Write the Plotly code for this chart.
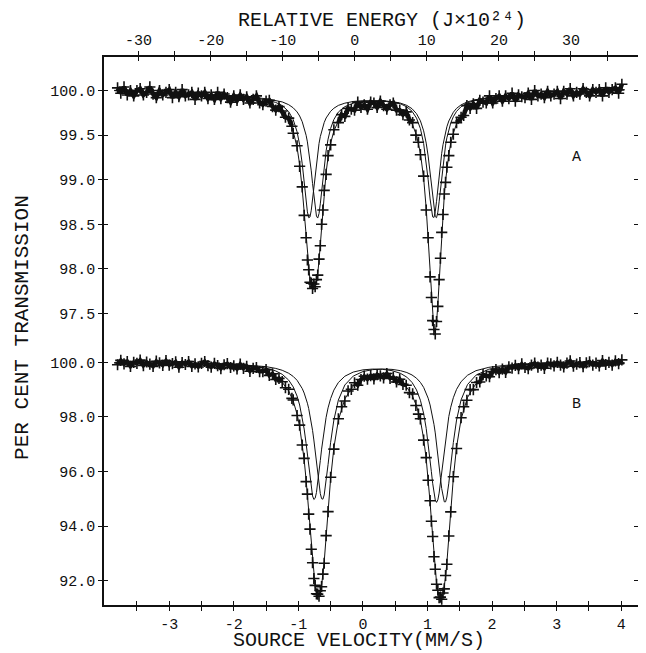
import plotly.graph_objects as go

# Mossbauer spectra, panels A and B
velocity = [
    -3.80, -3.75, -3.70, -3.65, -3.60, -3.55, -3.50, -3.45, -3.40, -3.35,
    -3.30, -3.25, -3.20, -3.15, -3.10, -3.05, -3.00, -2.95, -2.90, -2.85,
    -2.80, -2.75, -2.70, -2.65, -2.60, -2.55, -2.50, -2.45, -2.40, -2.35,
    -2.30, -2.25, -2.20, -2.15, -2.10, -2.05, -2.00, -1.95, -1.90, -1.85,
    -1.80, -1.75, -1.70, -1.65, -1.60, -1.55, -1.50, -1.45, -1.40, -1.35,
    -1.30, -1.25, -1.20, -1.15, -1.10,
    -1.08, -1.02, -0.98, -0.94, -0.91, -0.88, -0.86, -0.84, -0.82, -0.80,
    -0.78, -0.76, -0.74, -0.72, -0.70, -0.68, -0.66, -0.64, -0.62, -0.60,
    -0.57, -0.54, -0.50, -0.45, -0.38,
    -0.33, -0.28, -0.23, -0.18, -0.13, -0.08, -0.03, 0.02, 0.07, 0.12,
    0.17, 0.22, 0.27, 0.32, 0.37, 0.42, 0.47, 0.52, 0.57, 0.62,
    0.67, 0.72, 0.77, 0.82,
    0.86, 0.89, 0.94, 0.98, 1.01, 1.04, 1.06, 1.08, 1.10, 1.12,
    1.14, 1.16, 1.18, 1.20, 1.22, 1.24, 1.26, 1.28, 1.30, 1.33,
    1.36, 1.40, 1.45, 1.52,
    1.56, 1.61, 1.66, 1.71, 1.76, 1.81, 1.86, 1.91, 1.96, 2.01,
    2.06, 2.11, 2.16, 2.21, 2.26, 2.31, 2.36, 2.41, 2.46, 2.51,
    2.56, 2.61, 2.66, 2.71, 2.76, 2.81, 2.86, 2.91, 2.96, 3.01,
    3.06, 3.11, 3.16, 3.21, 3.26, 3.31, 3.36, 3.41, 3.46, 3.51,
    3.56, 3.61, 3.66, 3.71, 3.76, 3.81, 3.86, 3.91, 3.96, 4.01,
]

trans_a = [
    100.03, 99.97, 100.04, 99.95, 100.00, 99.94, 100.00, 100.02, 99.95, 99.98,
    100.04, 99.96, 99.92, 100.00, 99.95, 99.98, 100.01, 99.92, 99.98, 99.93,
    100.01, 99.94, 99.95, 99.98, 99.90, 99.97, 99.94, 99.98, 99.91, 99.95,
    99.90, 99.98, 99.91, 99.96, 99.92, 99.87, 99.94, 99.89, 99.95, 99.90,
    99.93, 99.86, 99.90, 99.94, 99.86, 99.84, 99.88, 99.89, 99.82, 99.78,
    99.82, 99.77, 99.70, 99.69, 99.60,
    99.52, 99.38, 99.15, 98.92, 98.60, 98.35, 98.10, 97.99, 97.85, 97.84,
    97.78, 97.83, 97.80, 97.88, 97.93, 98.11, 98.26, 98.50, 98.66, 98.88,
    99.06, 99.27, 99.39, 99.56, 99.64,
    99.73, 99.71, 99.80, 99.79, 99.78, 99.87, 99.81, 99.84, 99.79, 99.87,
    99.86, 99.81, 99.88, 99.83, 99.79, 99.84, 99.86, 99.78, 99.78, 99.73,
    99.76, 99.67, 99.64, 99.50,
    99.42, 99.28, 99.04, 98.66, 98.35, 97.91, 97.68, 97.42, 97.32, 97.27,
    97.41, 97.58, 97.88, 98.12, 98.41, 98.61, 98.84, 98.97, 99.14, 99.27,
    99.42, 99.51, 99.64, 99.70,
    99.72, 99.83, 99.80, 99.85, 99.80, 99.89, 99.87, 99.86, 99.94, 99.86,
    99.91, 99.94, 99.88, 99.94, 99.91, 99.97, 99.88, 99.95, 99.93, 99.92,
    99.97, 99.90, 100.00, 99.94, 99.96, 99.92, 99.99, 99.94, 99.96, 99.99,
    99.91, 99.99, 99.96, 100.02, 99.94, 99.98, 99.96, 100.02, 99.98, 99.94,
    100.01, 99.98, 100.01, 99.94, 100.03, 99.98, 100.01, 100.03, 99.97, 100.07,
]

trans_b = [
    99.91, 100.07, 99.94, 100.03, 99.85, 100.00, 99.96, 100.08, 99.88, 100.01,
    99.93, 99.85, 100.04, 99.98, 99.89, 100.06, 99.90, 99.95, 100.02, 99.82,
    99.99, 99.92, 100.03, 99.85, 99.94, 99.83, 99.96, 100.03, 99.88, 99.82,
    99.96, 99.88, 99.77, 99.91, 99.95, 99.81, 99.87, 99.76, 99.93, 99.78,
    99.85, 99.67, 99.78, 99.81, 99.66, 99.66, 99.73, 99.52, 99.58, 99.37,
    99.41, 99.29, 99.07, 99.01, 98.68,
    98.62, 98.05, 97.70, 96.97, 96.48, 95.63, 95.17, 94.44, 93.89, 93.15,
    92.66, 92.08, 91.83, 91.52, 91.51, 91.43, 91.63, 91.78, 92.24, 92.64,
    93.65, 94.53, 95.79, 96.82, 97.93,
    98.37, 98.58, 98.95, 99.01, 99.25, 99.16, 99.37, 99.49, 99.38, 99.51,
    99.39, 99.55, 99.50, 99.43, 99.59, 99.41, 99.45, 99.28, 99.38, 99.19,
    99.16, 98.89, 98.84, 98.42,
    98.10, 97.93, 97.15, 96.51, 95.68, 94.93, 94.18, 93.62, 92.88, 92.42,
    91.87, 91.65, 91.38, 91.40, 91.32, 91.55, 91.70, 92.19, 92.60, 93.64,
    94.52, 95.81, 96.84, 97.97,
    98.37, 98.61, 99.00, 99.00, 99.26, 99.28, 99.55, 99.50, 99.47, 99.66,
    99.73, 99.62, 99.75, 99.63, 99.83, 99.79, 99.89, 99.77, 99.94, 99.81,
    99.77, 99.90, 99.97, 99.82, 99.90, 99.78, 99.97, 99.94, 99.87, 100.00,
    99.90, 99.83, 99.97, 100.05, 99.86, 99.93, 99.99, 99.84, 99.98, 100.02,
    99.90, 99.97, 99.87, 100.06, 99.92, 100.00, 99.90, 100.05, 99.95, 100.09,
]

# fitted envelope and the two quadrupole-doublet components
fit_vel = [
    -3.85, -3.0, -2.4, -2.0, -1.7, -1.5, -1.35, -1.25, -1.15, -1.08,
    -1.02, -0.98, -0.94, -0.91, -0.88, -0.86, -0.84, -0.82, -0.80, -0.78,
    -0.76, -0.74, -0.72, -0.70, -0.68, -0.66, -0.64, -0.62, -0.60, -0.57,
    -0.54, -0.50, -0.45, -0.38, -0.28, -0.15, 0.0, 0.15, 0.3, 0.45,
    0.58, 0.68, 0.76, 0.83, 0.89, 0.94, 0.98, 1.01, 1.04, 1.06,
    1.08, 1.10, 1.12, 1.14, 1.16, 1.18, 1.20, 1.22, 1.24, 1.26,
    1.28, 1.30, 1.33, 1.36, 1.40, 1.45, 1.52, 1.62, 1.75, 1.95,
    2.2, 2.6, 3.0, 3.5, 4.05,
]

fit_a = [
    99.998, 99.965, 99.941, 99.920, 99.894, 99.863, 99.818, 99.765, 99.668, 99.544,
    99.362, 99.170, 98.894, 98.624, 98.321, 98.129, 97.974, 97.874, 97.824, 97.807,
    97.806, 97.819, 97.860, 97.949, 98.093, 98.279, 98.482, 98.680, 98.859, 99.082,
    99.252, 99.410, 99.545, 99.660, 99.748, 99.804, 99.833, 99.842, 99.838, 99.818,
    99.779, 99.718, 99.631, 99.497, 99.298, 99.019, 98.677, 98.332, 97.928, 97.661,
    97.439, 97.306, 97.290, 97.397, 97.601, 97.862, 98.137, 98.398, 98.629, 98.826,
    98.989, 99.125, 99.285, 99.405, 99.523, 99.625, 99.716, 99.791, 99.845, 99.889,
    99.916, 99.942, 99.960, 99.981, 100.006,
]
comp_a1 = [
    100.001, 99.970, 99.950, 99.934, 99.916, 99.896, 99.866, 99.831, 99.764, 99.674,
    99.537, 99.391, 99.178, 98.973, 98.757, 98.639, 98.574, 98.582, 98.658, 98.783,
    98.928, 99.072, 99.201, 99.313, 99.406, 99.483, 99.546, 99.598, 99.641, 99.692,
    99.731, 99.767, 99.801, 99.833, 99.858, 99.877, 99.886, 99.888, 99.884, 99.873,
    99.851, 99.817, 99.768, 99.690, 99.573, 99.406, 99.202, 99.002, 98.784, 98.660,
    98.583, 98.577, 98.641, 98.758, 98.902, 99.047, 99.180, 99.296, 99.392, 99.474,
    99.539, 99.593, 99.658, 99.707, 99.756, 99.800, 99.839, 99.873, 99.898, 99.920,
    99.936, 99.953, 99.968, 99.986, 100.009,
]
comp_a2 = [
    100.001, 99.970, 99.951, 99.936, 99.922, 99.908, 99.890, 99.872, 99.841, 99.806,
    99.760, 99.714, 99.650, 99.585, 99.498, 99.424, 99.333, 99.225, 99.099, 98.957,
    98.811, 98.680, 98.592, 98.570, 98.620, 98.729, 98.869, 99.015, 99.151, 99.323,
    99.454, 99.575, 99.675, 99.759, 99.819, 99.857, 99.877, 99.884, 99.883, 99.876,
    99.859, 99.833, 99.796, 99.740, 99.660, 99.548, 99.410, 99.265, 99.079, 98.936,
    98.791, 98.665, 98.586, 98.574, 98.636, 98.752, 98.894, 99.039, 99.173, 99.291,
    99.388, 99.469, 99.565, 99.636, 99.706, 99.766, 99.819, 99.861, 99.892, 99.917,
    99.934, 99.953, 99.968, 99.986, 100.009,
]

fit_b = [
    99.969, 99.945, 99.906, 99.847, 99.754, 99.630, 99.459, 99.267, 98.947, 98.582,
    98.102, 97.645, 97.028, 96.428, 95.688, 95.117, 94.493, 93.840, 93.198, 92.612,
    92.131, 91.783, 91.567, 91.470, 91.478, 91.589, 91.823, 92.191, 92.689, 93.605,
    94.580, 95.742, 96.866, 97.880, 98.660, 99.138, 99.383, 99.483, 99.497, 99.433,
    99.290, 99.081, 98.800, 98.405, 97.873, 97.207, 96.458, 95.737, 94.873, 94.233,
    93.573, 92.935, 92.370, 91.919, 91.606, 91.423, 91.350, 91.375, 91.503, 91.751,
    92.136, 92.651, 93.587, 94.574, 95.763, 96.893, 97.916, 98.713, 99.218, 99.562,
    99.744, 99.862, 99.912, 99.943, 99.961,
]
comp_b1 = [
    99.984, 99.971, 99.950, 99.917, 99.863, 99.789, 99.683, 99.560, 99.348, 99.099,
    98.762, 98.436, 97.990, 97.555, 97.021, 96.616, 96.187, 95.762, 95.384, 95.106,
    94.976, 95.020, 95.228, 95.562, 95.969, 96.400, 96.819, 97.205, 97.550, 97.984,
    98.330, 98.672, 98.981, 99.261, 99.490, 99.642, 99.723, 99.752, 99.743, 99.694,
    99.596, 99.456, 99.264, 98.988, 98.609, 98.125, 97.577, 97.052, 96.435, 95.995,
    95.570, 95.206, 94.957, 94.868, 94.958, 95.208, 95.573, 95.999, 96.440, 96.861,
    97.246, 97.586, 98.015, 98.355, 98.702, 99.009, 99.291, 99.526, 99.692, 99.816,
    99.887, 99.937, 99.959, 99.973, 99.981,
]
comp_b2 = [
    99.985, 99.974, 99.956, 99.930, 99.891, 99.841, 99.776, 99.707, 99.599, 99.483,
    99.340, 99.209, 99.038, 98.873, 98.667, 98.501, 98.306, 98.079, 97.814, 97.507,
    97.155, 96.763, 96.340, 95.909, 95.509, 95.190, 95.004, 94.986, 95.140, 95.621,
    96.251, 97.070, 97.885, 98.619, 99.169, 99.495, 99.660, 99.731, 99.754, 99.740,
    99.694, 99.625, 99.536, 99.417, 99.264, 99.082, 98.881, 98.685, 98.438, 98.238,
    98.003, 97.729, 97.413, 97.051, 96.648, 96.215, 95.777, 95.376, 95.063, 94.889,
    94.890, 95.064, 95.572, 96.220, 97.060, 97.884, 98.626, 99.186, 99.527, 99.747,
    99.857, 99.925, 99.953, 99.970, 99.980,
]

# axis ticks
vel_major = [-3, -2, -1, 0, 1, 2, 3, 4]
vel_labels = ["-3", "-2", "-1", "0", "1", "2", "3", "4"]
vel_minor = [-3.5, -2.5, -1.5, -0.5, 0.5, 1.5, 2.5, 3.5]
energy_major = [-30, -20, -10, 0, 10, 20, 30]
energy_labels = ["-30", "-20", "-10", "0", "10", "20", "30"]
energy_minor = [-25, -15, -5, 5, 15, 25, 35]
ticks_a = [97.5, 98.0, 98.5, 99.0, 99.5, 100.0]
ticks_b = [92.0, 94.0, 96.0, 98.0, 100.0]

FONT = "Liberation Mono"
INK = "#111111"
VEL_RANGE = [-4.01, 4.26]
ENERGY_RANGE = [-34.8, 39.3]
A_RANGE = [97.203, 100.3756]
B_RANGE = [91.11, 100.817]


def band(values, floor):
    # the densely packed points away from the dips print as a solid band
    return [v if v >= floor else None for v in values]


fig = go.Figure()

line_style = dict(color=INK, width=1)
marker_style = dict(symbol="cross-thin", size=8, line=dict(color=INK, width=1.6))

for comp in (comp_a1, comp_a2, fit_a):
    fig.add_trace(go.Scatter(x=fit_vel, y=comp, mode="lines", line=line_style,
                             xaxis="x", yaxis="y", hoverinfo="skip"))
fig.add_trace(go.Scatter(x=velocity, y=band(trans_a, 99.6), mode="lines",
                         line=dict(color=INK, width=4.5), connectgaps=False,
                         xaxis="x", yaxis="y", hoverinfo="skip"))
fig.add_trace(go.Scatter(x=velocity, y=trans_a, mode="markers", marker=marker_style,
                         xaxis="x", yaxis="y"))

for comp in (comp_b1, comp_b2, fit_b):
    fig.add_trace(go.Scatter(x=fit_vel, y=comp, mode="lines", line=line_style,
                             xaxis="x", yaxis="y2", hoverinfo="skip"))
fig.add_trace(go.Scatter(x=velocity, y=band(trans_b, 99.1), mode="lines",
                         line=dict(color=INK, width=4), connectgaps=False,
                         xaxis="x", yaxis="y2", hoverinfo="skip"))
fig.add_trace(go.Scatter(x=velocity, y=trans_b, mode="markers", marker=marker_style,
                         xaxis="x", yaxis="y2"))

# invisible carriers so that the overlay axes (energy scale, inner ticks) get drawn
ghost = dict(mode="markers", marker=dict(opacity=0), hoverinfo="skip")
fig.add_trace(go.Scatter(x=energy_major, y=[ticks_a[-1]] * len(energy_major),
                         xaxis="x2", yaxis="y", **ghost))
fig.add_trace(go.Scatter(x=energy_major, y=[ticks_a[-1]] * len(energy_major),
                         xaxis="x4", yaxis="y", **ghost))
fig.add_trace(go.Scatter(x=vel_major, y=[ticks_b[-1]] * len(vel_major),
                         xaxis="x3", yaxis="y2", **ghost))
fig.add_trace(go.Scatter(x=[0.0] * len(ticks_a), y=ticks_a, xaxis="x", yaxis="y3", **ghost))
fig.add_trace(go.Scatter(x=[0.0] * len(ticks_b), y=ticks_b, xaxis="x", yaxis="y4", **ghost))

tick_font = dict(family=FONT, size=15, color=INK)
split = 0.4836  # boundary between the two panels (no line drawn there)

common = dict(showgrid=False, zeroline=False, linecolor=INK, linewidth=1.5,
              tickcolor=INK, tickwidth=1.3, ticklen=4, tickfont=tick_font,
              fixedrange=True)


def minor(vals, side):
    return dict(tickmode="array", tickvals=vals, ticks=side, ticklen=4,
                tickwidth=1.3, tickcolor=INK, showgrid=False)


# the page body keeps an 8px margin, so the figure is 8px smaller than the window
fig.update_layout(
    width=638, height=645,
    margin=dict(l=96, r=2, t=49, b=48),
    paper_bgcolor="white", plot_bgcolor="white",
    showlegend=False,
    xaxis=dict(domain=[0, 1], range=VEL_RANGE, anchor="y2", showline=True,
               tickmode="array", tickvals=vel_major, ticktext=vel_labels,
               ticks="outside", minor=minor(vel_minor, "outside"), **common),
    xaxis3=dict(overlaying="x", anchor="y2", side="bottom", range=VEL_RANGE,
                tickmode="array", tickvals=vel_major, ticks="inside",
                minor=minor(vel_minor, "inside"),
                showticklabels=False, showline=False, **common),
    xaxis2=dict(overlaying="x", anchor="y", side="top", range=ENERGY_RANGE,
                showline=True, tickmode="array", tickvals=energy_major,
                ticktext=energy_labels, ticks="outside",
                minor=minor(energy_minor, "outside"), **common),
    xaxis4=dict(overlaying="x", anchor="y", side="top", range=ENERGY_RANGE,
                tickmode="array", tickvals=energy_major, ticks="inside",
                minor=minor(energy_minor, "inside"),
                showticklabels=False, showline=False, **common),
    yaxis=dict(domain=[split, 1], range=A_RANGE, anchor="x",
               showline=True, mirror="ticks", tickmode="array", tickvals=ticks_a,
               tickformat=".1f", ticks="outside", **common),
    yaxis3=dict(overlaying="y", anchor="x", side="left", range=A_RANGE,
                tickmode="array", tickvals=ticks_a, ticks="inside", mirror="ticks",
                showticklabels=False, showline=False, **common),
    yaxis2=dict(domain=[0, split], range=B_RANGE, anchor="x",
                showline=True, mirror="ticks", tickmode="array", tickvals=ticks_b,
                tickformat=".1f", ticks="outside", **common),
    yaxis4=dict(overlaying="y2", anchor="x", side="left", range=B_RANGE,
                tickmode="array", tickvals=ticks_b, ticks="inside", mirror="ticks",
                showticklabels=False, showline=False, **common),
)

title_font = dict(family=FONT, size=21, color=INK)
fig.add_annotation(text="RELATIVE ENERGY (J\u00d710\u00b2\u2074)", xref="paper", yref="paper",
                   x=0.5204, y=1.0675, showarrow=False,
                   font=dict(family=FONT, size=20, color=INK),
                   xanchor="center", yanchor="middle", borderpad=0)
fig.add_annotation(text="SOURCE VELOCITY(MM/S)", xref="paper", yref="paper",
                   x=0.4778, y=-0.0639, showarrow=False,
                   font=dict(family=FONT, size=20, color=INK),
                   xanchor="center", yanchor="middle", borderpad=0)
fig.add_annotation(text="PER CENT TRANSMISSION", xref="paper", yref="paper",
                   x=-0.1519, y=0.5073, showarrow=False, font=title_font,
                   textangle=-90, xanchor="center", yanchor="middle")
fig.add_annotation(text="A", xref="x", yref="y", x=3.3, y=99.25, showarrow=False,
                   font=dict(family=FONT, size=15, color=INK))
fig.add_annotation(text="B", xref="x", yref="y2", x=3.3, y=98.45, showarrow=False,
                   font=dict(family=FONT, size=15, color=INK))

fig.write_html("out.html")
